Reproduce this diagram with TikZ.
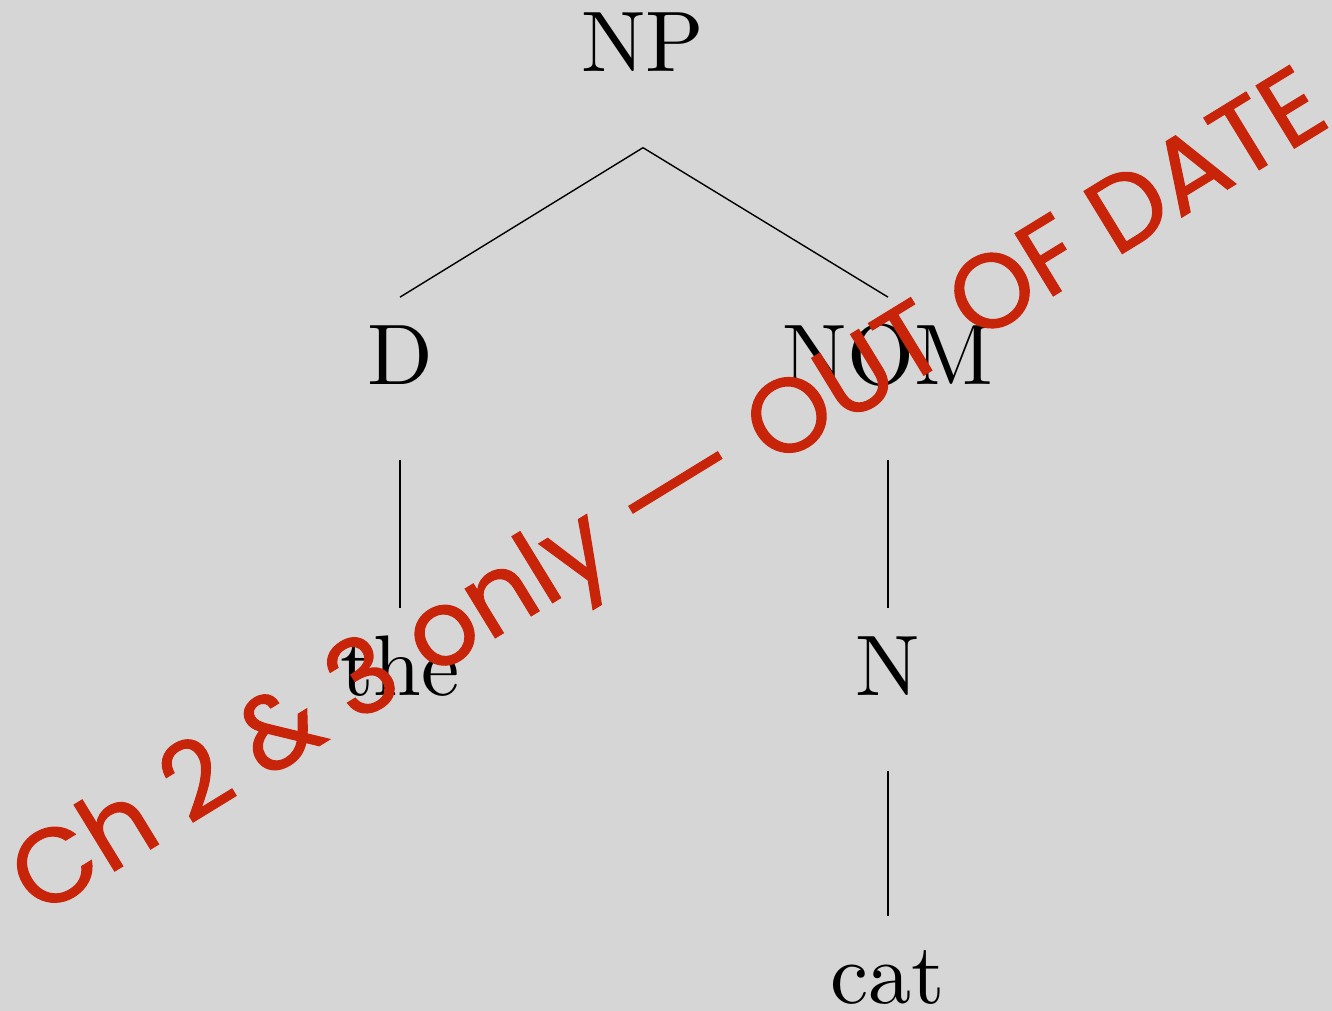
\documentclass[tikz,border=0pt]{standalone}
\usepackage{fontspec}
\newfontfamily\stampfont[FakeBold=1]{Poppins}
\definecolor{paper}{HTML}{D6D6D6}
\definecolor{stampred}{HTML}{C8240A}
\begin{document}
\begin{tikzpicture}[x=0.5pt, y=-0.5pt,
  cat/.style={scale=4.3, font=\normalsize, inner sep=0pt, text height=9.9pt, text depth=8.6pt, anchor=base},
  branch/.style={line width=0.7pt}]
% Background
\fill[paper] (0,0) rectangle (1332,1011);
\useasboundingbox (0,0) rectangle (1332,1011);

% Tree nodes
\node[cat] (np) at (643,72) {NP};
\node[cat] (d) at (400,384) {D};
\node[cat] (nom) at (888,384) {NOM};
\node[cat] (the) at (400,695) {the};
\node[cat] (n) at (888,695) {N};
\node[cat] (catw) at (888,1003) {cat};

% Branches
\draw[branch] (np.south) -- (d.north);
\draw[branch] (np.south) -- (nom.north);
\draw[branch] (d.south) -- (the.north);
\draw[branch] (nom.south) -- (n.north);
\draw[branch] (n.south) -- (catw.north);

% Stamp
\node[rotate=31.5, anchor=base, inner sep=0pt, text=stampred, font=\stampfont\fontsize{52.5}{60}\selectfont] (stamp) at (686,521) {Ch 2 \& 3 only \scalebox{1.35}[1]{—} OUT OF DATE};
\end{tikzpicture}
\end{document}
